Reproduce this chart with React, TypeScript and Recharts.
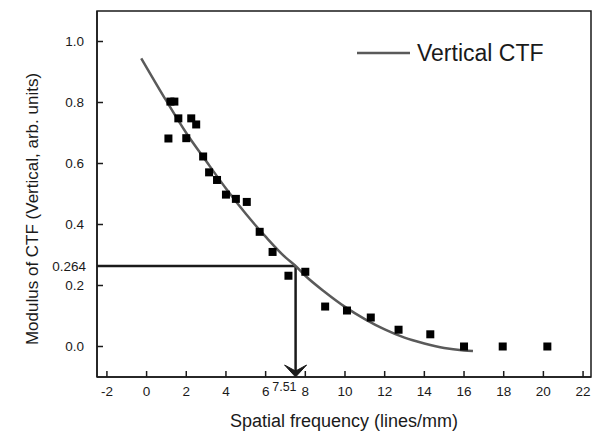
import {
  ComposedChart,
  Line,
  Scatter,
  XAxis,
  YAxis,
  ReferenceLine,
  ReferenceArea,
  Legend,
} from "recharts";

// measured CTF values (squares)
const measuredX = [1.1, 1.2, 1.4, 1.6, 2.0, 2.25, 2.5, 2.85, 3.15, 3.55, 4.0, 4.5, 5.05, 5.7, 6.35, 7.15, 8.0, 9.0, 10.1, 11.3, 12.7, 14.3, 16.0, 17.95, 20.2];
const measuredY = [0.682, 0.803, 0.803, 0.748, 0.683, 0.748, 0.728, 0.623, 0.571, 0.546, 0.498, 0.484, 0.474, 0.376, 0.31, 0.232, 0.245, 0.131, 0.118, 0.095, 0.055, 0.04, 0.0, 0.0, 0.0];

// fitted curve
const fitX = [-0.27, 1, 2, 3, 4, 5, 6, 7, 7.51, 8, 9, 10, 11, 12, 13, 14, 15, 16, 16.45];
const fitY = [0.945, 0.805, 0.7, 0.608, 0.518, 0.435, 0.36, 0.292, 0.264, 0.232, 0.178, 0.13, 0.09, 0.056, 0.029, 0.01, -0.005, -0.013, -0.015];

const xTicks = [-2, 0, 2, 4, 6, 8, 10, 12, 14, 16, 18, 20, 22];
const yTicks = [0, 0.2, 0.4, 0.6, 0.8, 1.0];

const cutoffX = 7.51;
const cutoffY = 0.264;

const measured = measuredX.map((x, i) => ({ x, y: measuredY[i] }));
const fit = fitX.map((x, i) => ({ x, fit: fitY[i] }));

const ink = "#1a1a1a";

const XTick = (props: any) => {
  const { x, y, payload } = props;
  return (
    <g>
      <line x1={x} y1={y} x2={x} y2={y - 6} stroke={ink} strokeWidth={1.5} />
      <text x={x} y={y + 19} textAnchor="middle" fontSize={13.5} fill={ink}>
        {payload.value}
      </text>
    </g>
  );
};

const YTick = (props: any) => {
  const { x, y, payload } = props;
  return (
    <g>
      <line x1={x} y1={y} x2={x + 6} y2={y} stroke={ink} strokeWidth={1.5} />
      <text x={x - 13} y={y} dy="0.35em" textAnchor="end" fontSize={13.5} fill={ink}>
        {Number(payload.value).toFixed(1)}
      </text>
    </g>
  );
};

const Arrow = (props: any) => {
  const { x1, y1, x2, y2 } = props;
  const top = Math.min(y1, y2);
  const bot = Math.max(y1, y2);
  return (
    <g>
      <line x1={x1} y1={top} x2={x1} y2={bot - 4} stroke={ink} strokeWidth={2.5} />
      <path
        d={`M${x1},${bot} L${x1 - 11},${bot - 12} L${x1},${bot - 6} L${x1 + 11},${bot - 12} Z`}
        fill={ink}
        stroke={ink}
        strokeWidth={1}
        strokeLinejoin="round"
      />
      <text x={x2 + 1} y={bot + 14} textAnchor="end" fontSize={12.5} fill={ink}>
        {cutoffX}
      </text>
    </g>
  );
};

const HLine = (props: any) => {
  const { x1, y1, x2 } = props;
  return (
    <g>
      <line x1={x1} y1={y1} x2={x2} y2={y1} stroke={ink} strokeWidth={2.5} />
      <text x={x1 - 11} y={y1} dy="0.35em" textAnchor="end" fontSize={13.5} fill={ink}>
        {cutoffY}
      </text>
    </g>
  );
};

const LegendBox = () => (
  <svg width={220} height={30}>
    <line x1={2} y1={15} x2={55} y2={15} stroke="#5a5a5a" strokeWidth={2.5} />
    <text x={62} y={15} dy="0.35em" fontSize={23} fill={ink}>
      Vertical CTF
    </text>
  </svg>
);

const YLabel = (props: any) => {
  const { viewBox } = props;
  const cx = viewBox.x + 32;
  const cy = viewBox.y + viewBox.height / 2 + 15;
  return (
    <text x={cx} y={cy} transform={`rotate(-90, ${cx}, ${cy})`} textAnchor="middle" dy="0.35em" fontSize={17} fill={ink}>
      Modulus of CTF (Vertical, arb. units)
    </text>
  );
};

export default function App() {
  return (
    <div style={{ position: "absolute", left: 0, top: 0, background: "#fff", fontFamily: "'Liberation Sans', Arial, sans-serif" }}>
      <ComposedChart width={594} height={432} margin={{ top: 11, right: 3, left: 0, bottom: 0 }}>
        <XAxis
          dataKey="x"
          type="number"
          domain={[-2.5, 22.4]}
          ticks={xTicks}
          allowDataOverflow
          height={55}
          tickSize={0}
          tickMargin={0}
          tickLine={false}
          tick={<XTick />}
          axisLine={{ stroke: ink, strokeWidth: 1.5 }}
          label={{ value: "Spatial frequency (lines/mm)", position: "insideBottom", offset: 5, fontSize: 18, fill: ink }}
        />
        <YAxis
          type="number"
          domain={[-0.1, 1.1]}
          ticks={yTicks}
          allowDataOverflow
          width={97}
          tickSize={0}
          tickMargin={0}
          tickLine={false}
          tick={<YTick />}
          axisLine={{ stroke: ink, strokeWidth: 1.5 }}
          label={<YLabel />}
        />
        <ReferenceArea x1={-2.5} x2={22.4} y1={-0.1} y2={1.1} fill="none" stroke={ink} strokeWidth={1.5} ifOverflow="visible" />
        <ReferenceLine
          segment={[{ x: -2.5, y: cutoffY }, { x: cutoffX, y: cutoffY }]}
          shape={<HLine />}
          ifOverflow="visible"
        />
        <ReferenceLine
          segment={[{ x: cutoffX, y: cutoffY }, { x: cutoffX, y: -0.1 }]}
          shape={<Arrow />}
          ifOverflow="visible"
        />
        <Line
          data={fit}
          dataKey="fit"
          type="monotone"
          stroke="#5a5a5a"
          strokeWidth={2.5}
          dot={false}
          activeDot={false}
          isAnimationActive={false}
          legendType="line"
        />
        <Scatter
          data={measured}
          dataKey="y"
          fill="#000"
          isAnimationActive={false}
          shape={(p: any) => <rect x={p.cx - 4} y={p.cy - 4} width={8} height={8} fill="#000" />}
        />
        <Legend
          layout="horizontal"
          verticalAlign="middle"
          align="center"
          content={<LegendBox />}
          wrapperStyle={{ top: 38, left: 355, width: 220, height: 30 }}
        />
      </ComposedChart>
    </div>
  );
}
